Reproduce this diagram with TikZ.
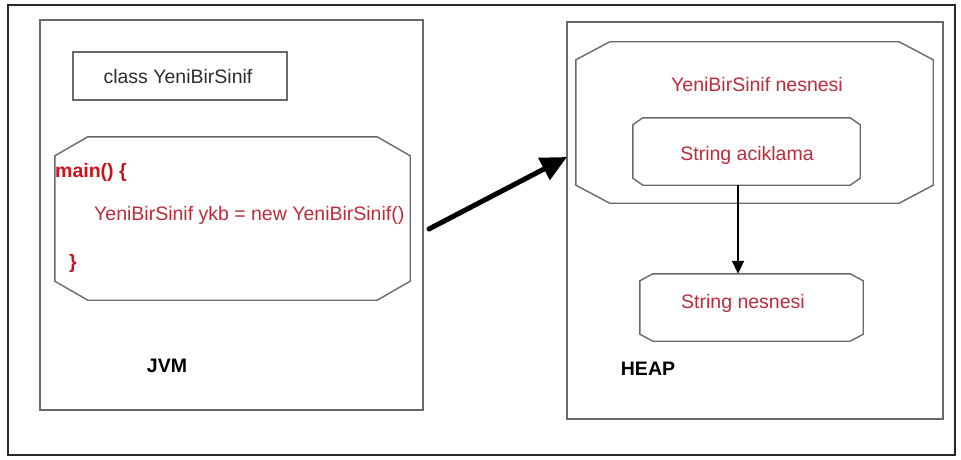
\documentclass[tikz,border=0pt]{standalone}
\usepackage{fontspec}
\setmainfont{Liberation Sans}
\usetikzlibrary{calc,arrows.meta}

\definecolor{frameline}{RGB}{40,40,40}
\definecolor{boxline}{RGB}{105,105,105}
\definecolor{codered}{RGB}{185,45,60}
\definecolor{keyred}{RGB}{200,20,30}
\definecolor{plaintext}{RGB}{45,45,45}

\tikzset{
  area/.style={draw=boxline, line width=1.4pt, inner sep=0pt},
  slot/.style={inner sep=0pt, minimum width=#1},
  txt/.style={inner sep=0pt, font=\fontsize{19.5}{23}\selectfont},
  code/.style={txt, text=codered},
  keyword/.style={txt, text=keyred, font=\fontsize{19.5}{23}\selectfont\bfseries},
  tag/.style={txt, text=black, font=\fontsize{19.5}{23}\selectfont\bfseries},
  outline/.style={draw=boxline, line width=1.4pt, line join=miter},
}

% chamfered outline around a named (invisible) node: #1 node, #2 horizontal cut, #3 vertical cut
\newcommand\chamfbox[3]{%
  \draw[outline]
    ($(#1.north west)+(#2,0)$) -- ($(#1.north east)+(-#2,0)$) --
    ($(#1.north east)+(0,#3)$) -- ($(#1.south east)+(0,-#3)$) --
    ($(#1.south east)+(-#2,0)$) -- ($(#1.south west)+(#2,0)$) --
    ($(#1.south west)+(0,-#3)$) -- ($(#1.north west)+(0,#3)$) -- cycle;}

\begin{document}
\begin{tikzpicture}[x=1pt, y=-1pt]
  \useasboundingbox (0,0) rectangle (961,460);
  \fill[white] (0,0) rectangle (961,460);

  % outer frame
  \node[draw=frameline, line width=1.5pt, minimum width=947pt, minimum height=450pt, inner sep=0pt] (frame) at (481.5,230) {};

  % JVM side
  \node[area, minimum width=383pt, minimum height=390pt] (jvm) at (231.5,215) {};
  \node[area, minimum width=214pt, minimum height=48pt] (cls) at (180,76) {};
  \node[txt, text=plaintext] (clstxt) at (178,77) {class YeniBirSinif};

  \node[inner sep=0pt, minimum width=355pt, minimum height=163pt] (main) at (232.5,218.5) {};
  \chamfbox{main}{33}{19}
  \node[keyword, anchor=west] (mainhead) at (55,172) {main() \{};
  \node[code, anchor=west] (mainbody) at (94,215) {YeniBirSinif ykb = new YeniBirSinif()};
  \node[keyword, anchor=west] (mainend) at (69,263) {\}};

  \node[tag] (jvmtxt) at (167,366) {JVM};

  % HEAP side
  \node[area, minimum width=376pt, minimum height=397pt] (heap) at (755,220.5) {};

  \node[inner sep=0pt, minimum width=357pt, minimum height=161pt] (obj) at (754.5,122.5) {};
  \chamfbox{obj}{34}{18}
  \node[code] (objtxt) at (757,85) {YeniBirSinif nesnesi};

  \node[inner sep=0pt, minimum width=227pt, minimum height=67pt] (field) at (746.5,151.5) {};
  \chamfbox{field}{10}{7}
  \node[code] (fieldtxt) at (747,155) {String aciklama};

  \node[inner sep=0pt, minimum width=223pt, minimum height=67pt] (str) at (751.5,307.5) {};
  \chamfbox{str}{13}{7}
  \node[code] (strtxt) at (743,303) {String nesnesi};

  \node[tag] (heaptxt) at (648,369) {HEAP};

  % reference arrows
  \coordinate (refstart) at (429,229);
  \coordinate (refend) at (567,157);
  \draw[line width=5pt, line cap=round, -{Triangle[length=26pt, width=24pt]}] (refstart) -- (refend);

  \draw[line width=2pt, -{Triangle[length=13pt, width=12pt]}]
    ([xshift=-8.5pt]field.south) -- ([xshift=-8.5pt]field.south |- str.north);
\end{tikzpicture}
\end{document}
